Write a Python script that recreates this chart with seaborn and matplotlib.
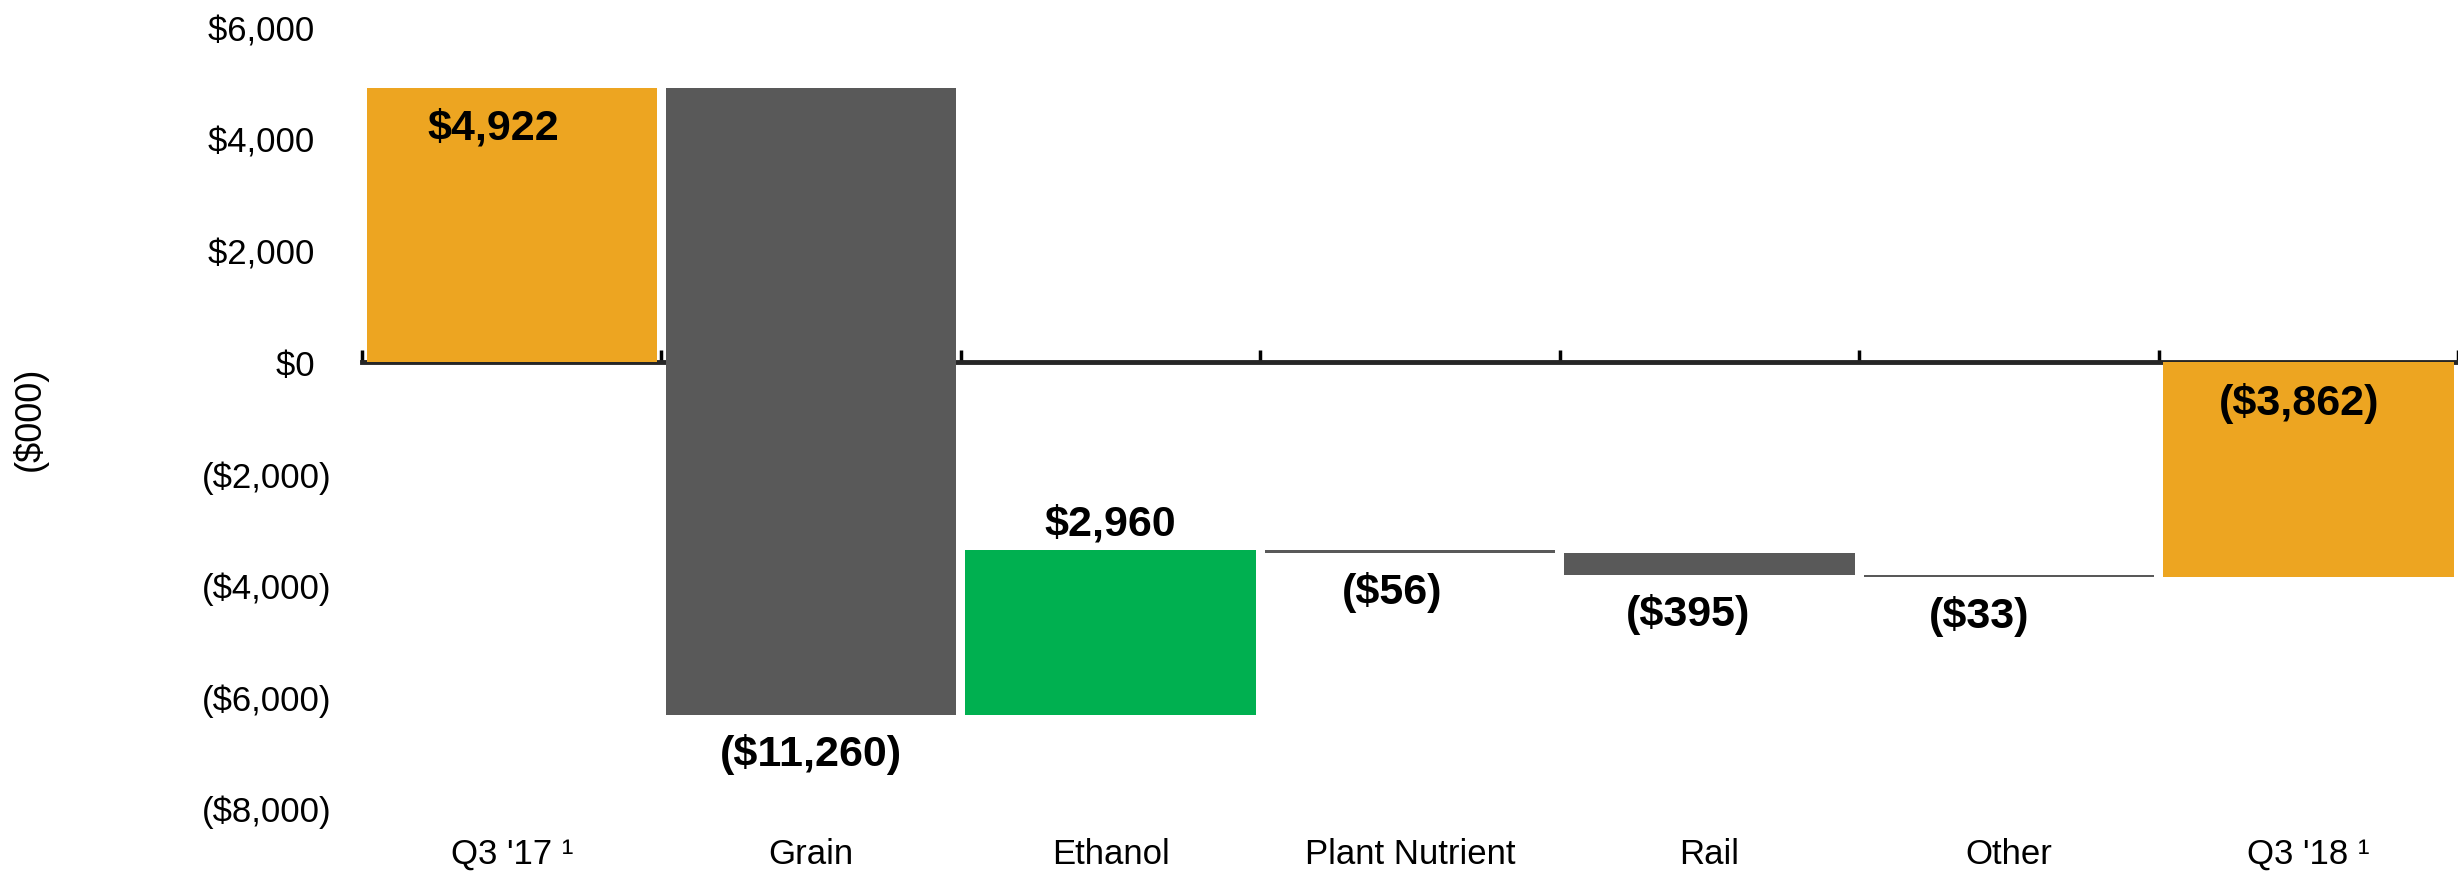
import numpy as np
import pandas as pd
import seaborn as sns
import matplotlib.pyplot as plt
from matplotlib.ticker import FuncFormatter

# waterfall data ($000)
categories = ["Q3 '17 ¹", "Grain", "Ethanol", "Plant Nutrient", "Rail", "Other", "Q3 '18 ¹"]
start_total = 4922
changes = [-11260, 2960, -56, -395, -33]
end_total = -3862
bar_colors = ["#EDA521", "#595959", "#00B050", "#595959", "#595959", "#595959", "#EDA521"]
bar_labels = ["$4,922", "($11,260)", "$2,960", "($56)", "($395)", "($33)", "($3,862)"]

running = start_total + np.concatenate([[0], np.cumsum(changes)])
bottoms = np.concatenate([[0], running[:-1], [0]])
heights = np.concatenate([[start_total], changes, [end_total]])
df = pd.DataFrame({"category": categories, "height": heights, "bottom": bottoms})

sns.set_style("white")
plt.rcParams['font.family'] = ['Liberation Sans', 'DejaVu Sans']
plt.rcParams.update({"text.color": "black", "axes.labelcolor": "black",
                     "xtick.color": "black", "ytick.color": "black"})

fig = plt.figure(figsize=(24.58, 8.79), dpi=100)
ax = fig.add_axes([0.1473, 0.0796, 0.8527, 0.888])

sns.barplot(data=df, x="category", y="height", bottom=df["bottom"].values,
            width=0.97, color="#595959", errorbar=None, ax=ax)
for patch, c in zip(ax.patches, bar_colors):
    patch.set_facecolor(c)
    patch.set_edgecolor("none")

ax.set_xlim(-0.5, len(categories) - 0.5)
ax.set_ylim(-8000, 6000)
ax.set_yticks(np.arange(-8000, 6001, 2000))

def money(v, pos):
    # accounting style: positives padded so they line up with ")"
    if v < 0:
        return f"(${-v:,.0f})"
    return f"${v:,.0f}\u2002"

ax.yaxis.set_major_formatter(FuncFormatter(money))
for s in ax.spines.values():
    s.set_visible(False)
ax.tick_params(axis="y", length=0, pad=22, labelsize=25)
ax.tick_params(axis="x", length=0, pad=21, labelsize=25)
ax.set_xlabel("")
ax.set_ylabel("($000)", fontsize=26)
ax.yaxis.set_label_coords(-0.150, 0.5)

# zero line with boundary ticks
lo, hi = ax.get_ylim()
zero = ax.secondary_xaxis(-lo / (hi - lo))
zero.set_xticks(np.arange(len(categories) + 1) - 0.5)
zero.tick_params(length=9, width=2.5, labeltop=False, labelbottom=False)
for s in zero.spines.values():
    s.set_linewidth(3.5)

# value labels (slight manual nudges, as in the slide)
label_dx = [-0.06, 0.0, 0.0, -0.06, -0.07, -0.10, -0.03]
for i, (b, h, txt) in enumerate(zip(bottoms, heights, bar_labels)):
    top, low = max(b, b + h), min(b, b + h)
    if i == 0 or i == len(categories) - 1:
        y = top - 720
    elif h < 0:
        y = low - 680
    else:
        y = top + 480
    ax.text(i + label_dx[i], y, txt, ha="center", va="center", fontsize=31, fontweight="bold")

fig.savefig("out.png", dpi=100)
